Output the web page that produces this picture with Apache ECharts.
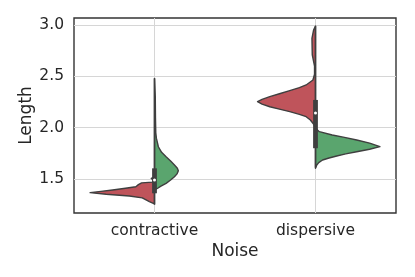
<!DOCTYPE html>
<html>
<head>
<meta charset="utf-8">
<script src="https://cdn.jsdelivr.net/npm/echarts@6/dist/echarts.min.js"></script>
<style>html,body{margin:0;padding:0;background:#fff}#c{width:415px;height:277px}</style>
</head>
<body>
<div id="c"></div>
<script>
// ---- data ----
const categories = ['contractive', 'dispersive'];
const yTicks = [1.5, 2.0, 2.5, 3.0];
// density profiles: [value, relative half-width]
const contractiveRed = [[1.52,0],[1.505,0.05],[1.49,0.02],[1.47,0.03],[1.462,0.2],[1.445,0.25],[1.425,0.29],[1.41,0.45],[1.393,0.65],[1.38,0.83],[1.367,1.0],[1.351,0.75],[1.335,0.39],[1.316,0.19],[1.28,0.08],[1.257,0.0]];
const contractiveGreen = [[2.48,0],[2.3,0.012],[2.1,0.015],[1.95,0.02],[1.895,0.03],[1.814,0.06],[1.76,0.11],[1.717,0.18],[1.676,0.25],[1.636,0.31],[1.605,0.355],[1.581,0.37],[1.55,0.35],[1.522,0.31],[1.49,0.25],[1.458,0.18],[1.43,0.1],[1.41,0.05],[1.393,0.0]];
const dispersiveRed = [[2.99,0],[2.95,0.03],[2.87,0.055],[2.71,0.05],[2.6,0.015],[2.52,0.015],[2.464,0.04],[2.416,0.145],[2.39,0.25],[2.36,0.4],[2.33,0.56],[2.302,0.71],[2.275,0.83],[2.253,0.9],[2.23,0.83],[2.204,0.71],[2.18,0.56],[2.156,0.4],[2.13,0.25],[2.107,0.145],[2.075,0.08],[2.043,0.04],[2.01,0.0]];
const dispersiveGreen = [[1.994,0],[1.961,0.06],[1.929,0.26],[1.905,0.45],[1.88,0.64],[1.85,0.84],[1.815,1.0],[1.79,0.84],[1.766,0.64],[1.745,0.47],[1.724,0.33],[1.705,0.21],[1.685,0.11],[1.66,0.05],[1.637,0.02],[1.605,0]];
// box stats: [low whisker, q1, median, q3, high whisker]
const contractiveBox = [1.25, 1.361, 1.49, 1.604, 2.48];
const dispersiveBox = [1.61, 1.80, 2.143, 2.27, 2.99];

const RED = '#bf545b', GREEN = '#5aa56e', EDGE = '#3f3f3f';
const profiles = [contractiveRed, contractiveGreen, dispersiveRed, dispersiveGreen];
const boxes = [contractiveBox, dispersiveBox];

const chart = echarts.init(document.getElementById('c'), null, {renderer: 'canvas'});
const FONT = 'DejaVu Sans';

chart.setOption({
  animation: false,
  grid: {left: 74, right: 19, top: 18, bottom: 64, show: true, borderColor: '#333', borderWidth: 1.4, backgroundColor: 'transparent'},
  xAxis: {
    type: 'category', data: categories, boundaryGap: true,
    axisLine: {show: false}, axisTick: {show: false, alignWithLabel: true},
    splitLine: {show: true, alignWithLabel: true, lineStyle: {color: '#d6d6d6', width: 1}},
    axisLabel: {fontFamily: FONT, fontSize: 15.5, color: '#262626', margin: 10},
    name: 'Noise', nameLocation: 'middle', nameGap: 30, nameMoveOverlap: false,
    nameTextStyle: {fontFamily: FONT, fontSize: 17, color: '#262626'}
  },
  yAxis: {
    type: 'value', min: 1.169, max: 3.068,
    axisLine: {show: false},
    axisTick: {show: false, customValues: yTicks},
    axisLabel: {customValues: yTicks, fontFamily: FONT, fontSize: 15.5, color: '#262626', margin: 10,
      formatter: v => v.toFixed(1)},
    splitLine: {show: true, lineStyle: {color: '#d6d6d6', width: 1}},
    name: 'Length', nameLocation: 'middle', nameGap: 39, nameMoveOverlap: false,
    nameTextStyle: {fontFamily: FONT, fontSize: 17, color: '#262626'}
  },
  series: [
    {
      type: 'custom', coordinateSystem: 'cartesian2d', z: 3,
      data: [[0, -1, 0], [0, 1, 1], [1, -1, 2], [1, 1, 3]],
      encode: {x: 0},
      renderItem: function (params, api) {
        const cat = api.value(0), side = api.value(1), prof = profiles[api.value(2)];
        const bw = api.size([1, 0])[0];
        const scale = 0.4 * bw;
        const cx = api.coord([cat, 2])[0];
        const pts = prof.map(p => [cx + side * p[1] * scale, api.coord([cat, p[0]])[1]]);
        pts.push([cx, pts[pts.length - 1][1]]);
        pts.unshift([cx, pts[0][1]]);
        return {
          type: 'polygon', shape: {points: pts},
          style: {fill: side < 0 ? RED : GREEN, stroke: EDGE, lineWidth: 1.4, lineJoin: 'round'}
        };
      }
    },
    {
      type: 'custom', coordinateSystem: 'cartesian2d', z: 4,
      data: [[0, 0], [1, 1]],
      encode: {x: 0},
      renderItem: function (params, api) {
        const cat = api.value(0), b = boxes[api.value(1)];
        const cx = api.coord([cat, 2])[0];
        const y = v => api.coord([cat, v])[1];
        return {
          type: 'group', children: [
            {type: 'line', shape: {x1: cx, y1: y(b[0]), x2: cx, y2: y(b[4])}, style: {stroke: EDGE, lineWidth: 1.5}},
            {type: 'rect', shape: {x: cx - 2.4, y: y(b[3]), width: 4.8, height: y(b[1]) - y(b[3])}, style: {fill: EDGE}},
            {type: 'circle', shape: {cx: cx, cy: y(b[2]), r: 1.5}, style: {fill: '#ffffff'}}
          ]
        };
      }
    }
  ]
});
</script>
</body>
</html>
